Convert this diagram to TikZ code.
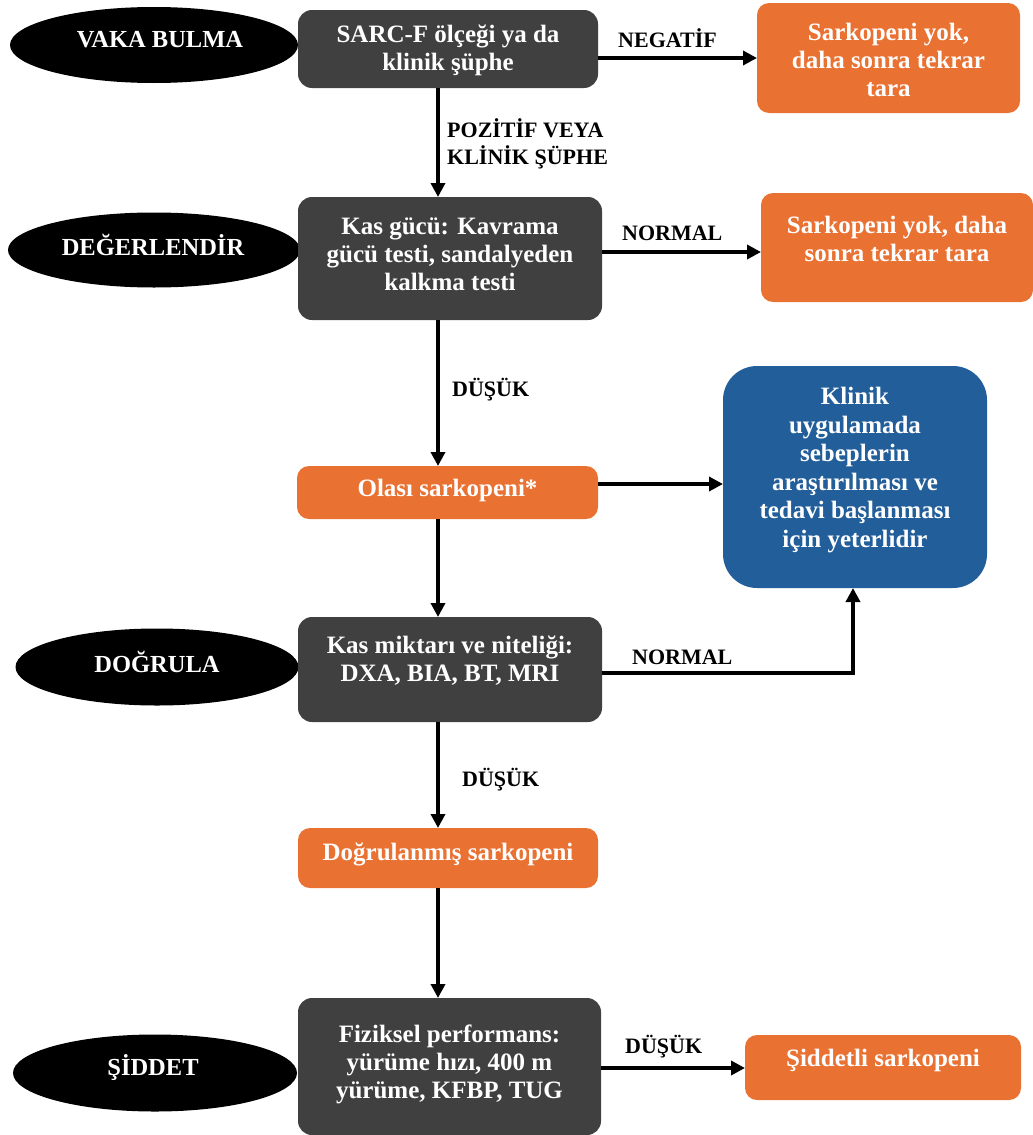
\documentclass[tikz,border=0pt]{standalone}
\usepackage{fontspec}
\setmainfont{Liberation Serif}
\usetikzlibrary{arrows.meta,shapes.geometric}
\definecolor{boxgray}{HTML}{404040}
\definecolor{boxorange}{HTML}{E97132}
\definecolor{boxblue}{HTML}{225E9A}
\begin{document}
\begin{tikzpicture}[x=1pt,y=-1pt,
  shp/.style={rectangle, draw=none, inner sep=0pt, outer sep=0pt},
  gbox/.style={shp, fill=boxgray, rounded corners=14pt},
  obox/.style={shp, fill=boxorange, rounded corners=12pt},
  bbox/.style={shp, fill=boxblue, rounded corners=34pt},
  ell/.style={ellipse, fill=black, draw=none, inner sep=0pt, outer sep=0pt},
  txt/.style={text=white, align=center, inner sep=0pt, font=\bfseries\fontsize{25}{28}\selectfont},
  etxt/.style={text=white, inner sep=0pt, font=\bfseries\fontsize{24.5}{28}\selectfont},
  lbl/.style={text=black, anchor=west, align=left, inner sep=0pt, font=\bfseries\fontsize{22}{27}\selectfont},
  arr/.style={line width=3.6pt, -{Triangle[length=14pt,width=14pt]}},
  ln/.style={line width=3.6pt}
]
\useasboundingbox (0,0) rectangle (1033,1135);

% ellipses
\node[ell, minimum width=288pt, minimum height=76pt] (e1) at (154,45) {};
\node[etxt] (e1t) at (160,40) {VAKA BULMA};
\node[ell, minimum width=292pt, minimum height=75pt] (e2) at (154,250) {};
\node[etxt] (e2t) at (153,245) {DEĞERLENDİR};
\node[ell, minimum width=283pt, minimum height=77pt] (e3) at (157,667) {};
\node[etxt] (e3t) at (157,662) {DOĞRULA};
\node[ell, minimum width=284pt, minimum height=77pt] (e4) at (155,1073) {};
\node[etxt] (e4t) at (153,1068) {ŞİDDET};

% gray boxes
\node[gbox, minimum width=300pt, minimum height=78pt] (b1) at (448,49) {};
\node[txt] (b1t) at (448,50.5) {SARC-F ölçeği ya da\\klinik şüphe};
\node[gbox, minimum width=304pt, minimum height=123pt] (b2) at (450,258.5) {};
\node[txt] (b2t) at (450,254) {Kas gücü: Kavrama\\gücü testi, sandalyeden\\kalkma testi};
\node[gbox, minimum width=304pt, minimum height=105pt] (b3) at (450,669.5) {};
\node[txt] (b3t) at (450,661) {Kas miktarı ve niteliği:\\DXA, BIA, BT, MRI};
\node[gbox, minimum width=303pt, minimum height=137pt] (b4) at (449.5,1066.5) {};
\node[txt] (b4t) at (449.5,1064.5) {Fiziksel performans:\\yürüme hızı, 400 m\\yürüme, KFBP, TUG};

% orange boxes
\node[obox, minimum width=263pt, minimum height=110pt] (o1) at (888.5,58) {};
\node[txt] (o1t) at (888.5,59.5) {Sarkopeni yok,\\daha sonra tekrar\\tara};
\node[obox, minimum width=272pt, minimum height=109pt] (o2) at (897,247.5) {};
\node[txt] (o2t) at (897,238.5) {Sarkopeni yok, daha\\sonra tekrar tara};
\node[obox, minimum width=301pt, minimum height=53pt] (ol) at (447.5,492.5) {};
\node[txt] (olt) at (447.5,490) {Olası sarkopeni*};
\node[obox, minimum width=300pt, minimum height=60pt] (dg) at (448,858) {};
\node[txt] (dgt) at (448,854) {Doğrulanmış sarkopeni};
\node[obox, minimum width=276pt, minimum height=65pt] (sd) at (883,1067.5) {};
\node[txt] (sdt) at (883,1060) {Şiddetli sarkopeni};

% blue box
\node[bbox, minimum width=264pt, minimum height=222pt] (bl) at (855,477) {};
\node[txt, font=\bfseries\fontsize{25}{28.6}\selectfont] (blt) at (855,470) {Klinik\\uygulamada\\sebeplerin\\araştırılması ve\\tedavi başlanması\\için yeterlidir};

% helper coordinates
\coordinate (ax) at (438,0);
\coordinate (y2) at (0,252);
\coordinate (y3) at (0,484);
\coordinate (y4) at (0,673);
\coordinate (y5) at (0,1068);
\coordinate (bx) at (853,0);

% vertical arrows
\draw[arr] (b1.south -| ax) -- (b2.north -| ax);
\draw[arr] (b2.south -| ax) -- (ol.north -| ax);
\draw[arr] (ol.south -| ax) -- (b3.north -| ax);
\draw[arr] (b3.south -| ax) -- (dg.north -| ax);
\draw[arr] (dg.south -| ax) -- (b4.north -| ax);

% horizontal arrows
\draw[arr] (b1.east |- o1.west) -- (o1.west);
\draw[arr] (b2.east |- y2) -- (o2.west |- y2);
\draw[arr] (ol.east |- y3) -- (bl.west |- y3);
\draw[arr] (b3.east |- y4) -| (bl.south -| bx);
\draw[arr] (b4.east |- y5) -- (sd.west |- y5);

% labels
\node[lbl] (l1) at (618,38) {NEGATİF};
\node[lbl] (l2) at (447,143.5) {POZİTİF VEYA\\KLİNİK ŞÜPHE};
\node[lbl] (l3) at (622,233) {NORMAL};
\node[lbl] (l4) at (452,390) {DÜŞÜK};
\node[lbl] (l5) at (632,657) {NORMAL};
\node[lbl] (l6) at (462,780) {DÜŞÜK};
\node[lbl] (l7) at (625,1047) {DÜŞÜK};
\end{tikzpicture}
\end{document}
